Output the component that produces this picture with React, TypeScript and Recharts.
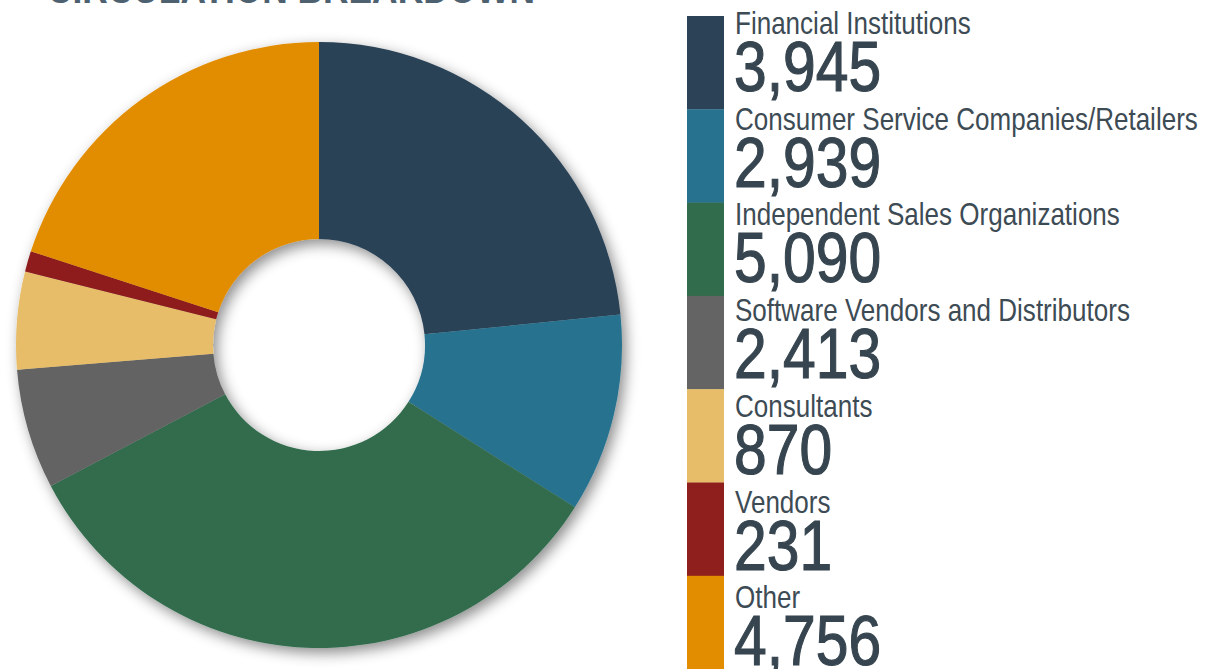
import React from 'react';
import { PieChart, Pie, Cell } from 'recharts';

const categories = [
  'Financial Institutions',
  'Consumer Service Companies/Retailers',
  'Independent Sales Organizations',
  'Software Vendors and Distributors',
  'Consultants',
  'Vendors',
  'Other',
];
// printed counts in the legend
const counts = ['3,945', '2,939', '5,090', '2,413', '870', '231', '4,756'];
// slice shares (%) as drawn in the donut
const sliceShare = [23.4, 10.6, 33.3, 6.4, 5.2, 1.1, 20.0];
const colors = ['#2c4357', '#27728f', '#316c4d', '#646464', '#e7bd69', '#8e1f1d', '#e28d00'];

const data = categories.map((name, i) => ({ name, value: sliceShare[i] }));

// no narrow face installed, so squeeze Liberation Sans horizontally
const FONT = '"Liberation Sans", Arial, sans-serif';
const SQUEEZE = 0.84;

export default function App() {
  return (
    <div style={{ position: 'absolute', left: 0, top: 0, width: 1207, height: 669, overflow: 'hidden', background: '#fff' }}>
      <style>{'.recharts-pie { filter: url(#pieShadow); }'}</style>
      <svg width={0} height={0} style={{ position: 'absolute' }}>
        <defs>
          <filter id="pieShadow" x="-20%" y="-20%" width="140%" height="140%">
            <feDropShadow dx={4} dy={5} stdDeviation={7} floodColor="#000" floodOpacity={0.45} />
          </filter>
        </defs>
      </svg>
      <div style={{ position: 'absolute', left: 0, top: 0 }}>
        <PieChart width={660} height={669} margin={{ top: 0, right: 0, bottom: 0, left: 0 }}>
          <Pie
            data={data}
            dataKey="value"
            cx={319}
            cy={345}
            innerRadius={106}
            outerRadius={303}
            startAngle={90}
            endAngle={-270}
            stroke="none"
            isAnimationActive={false}
          >
            {data.map((d, i) => (
              <Cell key={d.name} fill={colors[i]} />
            ))}
          </Pie>
        </PieChart>
      </div>
      <svg width={1207} height={669} style={{ position: 'absolute', left: 0, top: 0, pointerEvents: 'none' }}>
        <text x={47} y={3} fontFamily={FONT} fontWeight="bold" fontSize={42} fill="#4d6170" textLength={488} lengthAdjust="spacingAndGlyphs">
          CIRCULATION BREAKDOWN
        </text>
        {categories.map((name, i) => (
          <g key={name}>
            <rect x={687} y={16 + i * 93.3} width={37} height={i === categories.length - 1 ? 100 : 93.6} fill={colors[i]} />
            <text transform={`translate(735, ${34 + i * 95.7}) scale(${SQUEEZE}, 1)`} fontFamily={FONT} fontSize={31} fill="#3d4b55">
              {name}
            </text>
            <text
              transform={`translate(734, ${91 + i * 95.7}) scale(${SQUEEZE}, 1)`}
              fontFamily={FONT}
              fontSize={70}
              fill="#36454f"
              stroke="#36454f"
              strokeWidth={1.2}
            >
              {counts[i]}
            </text>
          </g>
        ))}
      </svg>
    </div>
  );
}
